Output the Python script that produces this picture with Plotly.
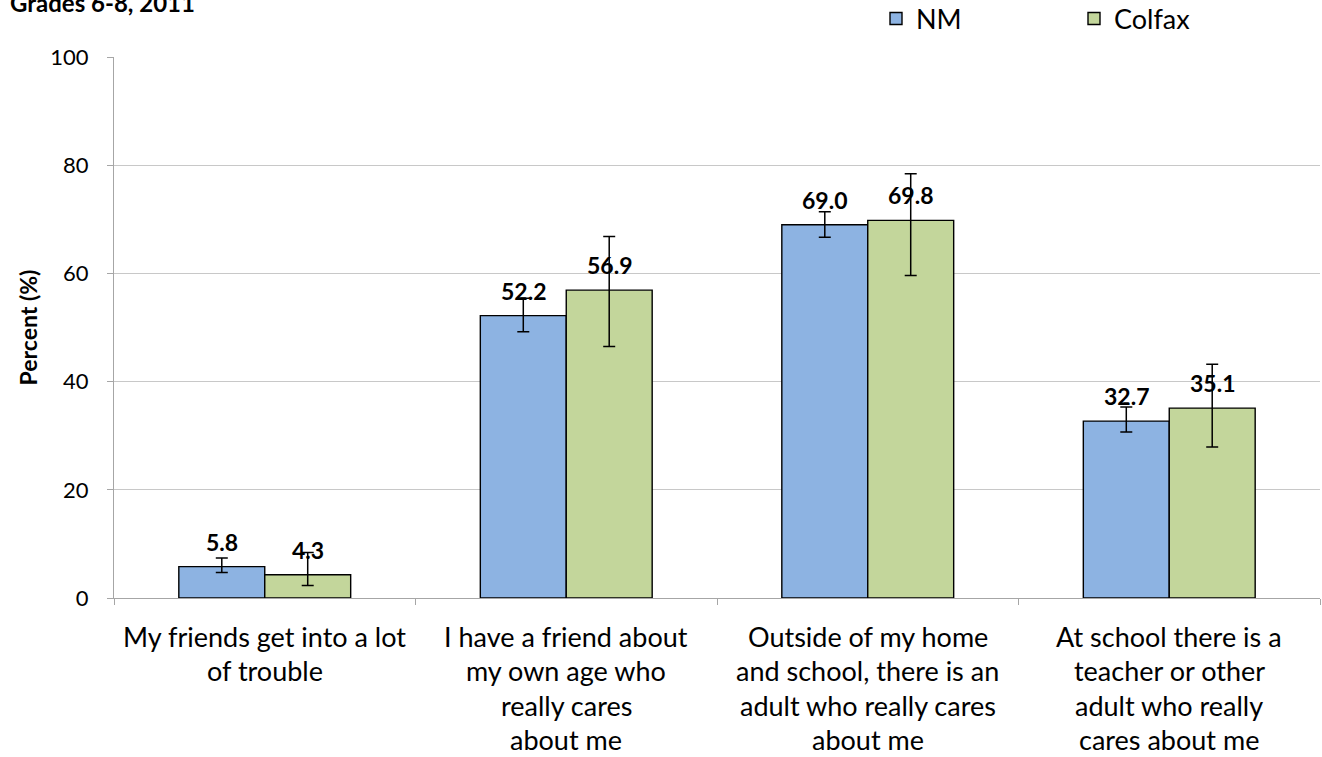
import plotly.graph_objects as go

categories = [
    "My friends get into a lot<br>of trouble",
    "I have a friend about<br>my own age who<br>really cares<br>about me",
    "Outside of my home<br>and school, there is an<br>adult who really cares<br>about me",
    "At school there is a<br>teacher or other<br>adult who really<br>cares about me",
]
nm_values = [5.8, 52.2, 69.0, 32.7]
nm_plus = [1.6, 3.2, 2.4, 2.6]
nm_minus = [1.1, 3.0, 2.3, 2.0]
colfax_values = [4.3, 56.9, 69.8, 35.1]
colfax_plus = [4.1, 9.9, 8.6, 8.1]
colfax_minus = [2.0, 10.4, 10.2, 7.2]

FONT = "Lato"
W, H = 1322, 757
L, R, T, B = 114, 2, 57, 159
keys = [str(i) for i in range(len(categories))]


def px_to_paper(px, py):
    # pixel position on the page -> paper coordinates
    return (px - L) / (W - L - R), (H - B - py) / (H - T - B)


fig = go.Figure()
fig.add_trace(go.Bar(
    x=keys, y=nm_values, name="NM",
    marker=dict(color="#8DB3E2", line=dict(color="black", width=1.4)),
    error_y=dict(type="data", symmetric=False, array=nm_plus, arrayminus=nm_minus,
                 color="black", thickness=1.5, width=6),
))
fig.add_trace(go.Bar(
    x=keys, y=colfax_values, name="Colfax",
    marker=dict(color="#C3D69B", line=dict(color="black", width=1.4)),
    error_y=dict(type="data", symmetric=False, array=colfax_plus, arrayminus=colfax_minus,
                 color="black", thickness=1.5, width=6),
))

annotations = []
# value labels above bars
for vals, shift in ((nm_values, -43), (colfax_values, 43)):
    for k, v in zip(keys, vals):
        annotations.append(dict(
            x=k, y=v, xref="x", yref="y", xshift=shift, yshift=25,
            text=f"<b>{v:.1f}</b>", showarrow=False,
            font=dict(family=FONT, size=23, color="black"),
        ))

# category labels, one annotation per line for Excel-like spacing
for k, cat in zip(keys, categories):
    for j, line in enumerate(cat.split("<br>")):
        annotations.append(dict(
            x=k, y=0, xref="x", yref="paper", yshift=-38 - 34.5 * j,
            text=line, showarrow=False, yanchor="middle",
            font=dict(family=FONT, size=27, color="black"),
        ))

tx, ty = px_to_paper(8, 19)
annotations.append(dict(
    x=tx, y=ty, xref="paper", yref="paper",
    xanchor="left", yanchor="bottom", text="<b>Grades 6-8, 2011</b>",
    showarrow=False, font=dict(family=FONT, size=24, color="black"),
))

fig.update_layout(
    width=W, height=H,
    margin=dict(l=L, r=R, t=T, b=B, autoexpand=False),
    paper_bgcolor="white", plot_bgcolor="white",
    barmode="group", bargap=0.43, bargroupgap=0,
    font=dict(family=FONT, size=21, color="black"),
    showlegend=True,
    legend=dict(
        orientation="h", x=876 / W, y=1 - 19 / H,
        xref="container", yref="container", xanchor="left", yanchor="middle",
        entrywidth=153, entrywidthmode="pixels",
        font=dict(family=FONT, size=27, color="black"),
        itemwidth=30, traceorder="normal",
    ),
    annotations=annotations,
)
fig.update_xaxes(
    type="category", tickson="boundaries", ticks="outside", ticklen=6,
    tickcolor="#A6A6A6", showticklabels=False, automargin=False,
    showline=True, linecolor="#A6A6A6", linewidth=1,
)
fig.update_yaxes(
    range=[0, 100], dtick=20, ticks="outside", ticklen=6, tickcolor="#A6A6A6",
    showline=True, linecolor="#A6A6A6", linewidth=1, automargin=False,
    showgrid=True, gridcolor="#C8C8C8", gridwidth=1, zeroline=False,
    tickfont=dict(family=FONT, size=22), ticklabelstandoff=14,
    title=dict(text="<b>Percent (%)</b>", font=dict(family=FONT, size=23), standoff=6),
)

# the page body has a default 8px margin; drop it so the figure sits at 0,0
fig.write_html(
    "out.html",
    config={"displayModeBar": False},
    post_script="document.body.style.margin='0px';",
)
